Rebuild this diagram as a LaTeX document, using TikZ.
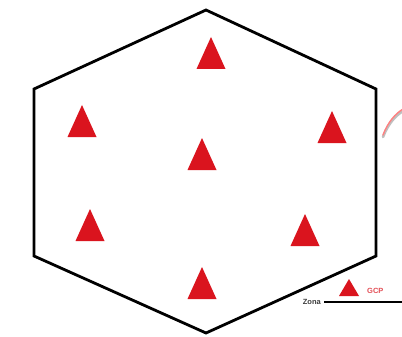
\documentclass[tikz,border=0pt]{standalone}
\usepackage{fontspec}
\setmainfont{Liberation Sans}
\definecolor{gcpred}{RGB}{218,20,30}
\definecolor{zonagray}{RGB}{60,60,60}
\begin{document}
\begin{tikzpicture}[x=1pt,y=-1pt,
  hexline/.style={line width=2.8pt,line join=miter},
  gcp/.pic={\fill[gcpred] (-14.5,16)--(14.5,16)--(0,-16)--cycle;},
  gcpsmall/.pic={\fill[gcpred] (-10,8.5)--(10,8.5)--(0,-8.5)--cycle;},
  lbl/.style={font=\bfseries\fontsize{7.5}{8}\selectfont,inner sep=0pt}]
\useasboundingbox[fill=white] (0,0) rectangle (402,337);
\coordinate (T) at (206,10);
\coordinate (UL) at (34,89);
\coordinate (LL) at (34,256);
\coordinate (B) at (206,333);
\coordinate (LR) at (376,256);
\coordinate (UR) at (376,89);
\draw[hexline] (T)--(UR)--(LR)--(B)--(LL)--(UL)--cycle;
\pic at (211,53) {gcp};
\pic at (82,121) {gcp};
\pic at (332,127) {gcp};
\pic at (202,154) {gcp};
\pic at (90,225) {gcp};
\pic at (305,230) {gcp};
\pic at (202,283) {gcp};
\pic at (349,287.5) {gcpsmall};
\node[lbl,text=gcpred!75,anchor=west] (gcplbl) at (367,291) {GCP};
\node[lbl,text=zonagray,anchor=east] (zona) at (321,302) {Zona};
\coordinate (zend) at (402,302);
\draw[line width=2pt] (zona.east)++(3,0) -- (zend);
\draw[gray!50,line width=2.6pt,line cap=round] (383,137) .. controls (388,124) and (395,116) .. (403,111);
\draw[red!50,line width=1.4pt,line cap=round] (383,135) .. controls (388,122) and (395,114) .. (403,109);
\end{tikzpicture}
\end{document}
